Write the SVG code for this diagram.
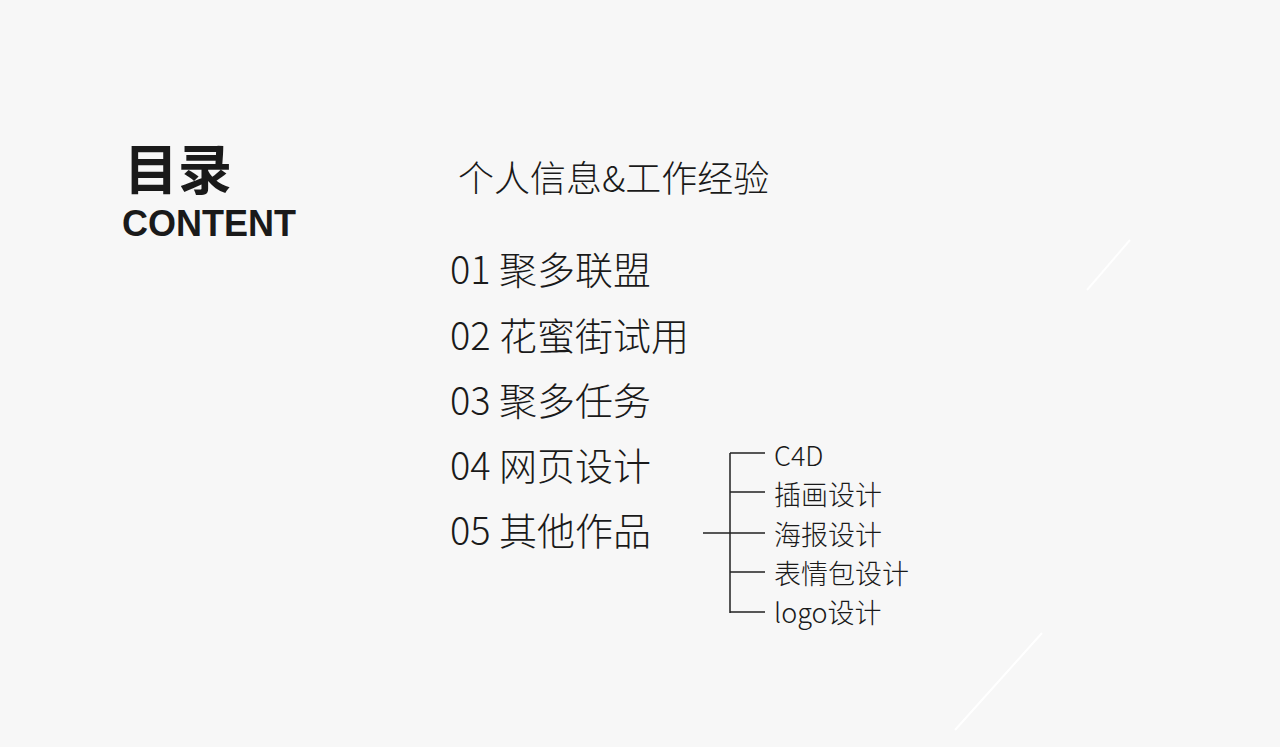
<svg xmlns="http://www.w3.org/2000/svg" width="1280" height="747" viewBox="0 0 1280 747">
<style>
text{font-family:"Noto Sans CJK SC","Noto Sans",sans-serif;fill:#1a1a1a}
.item{font-size:38px;font-weight:300}
.sub{font-size:27px;font-weight:300}
.ln{stroke:#222;stroke-width:1.5;fill:none}
</style>
<rect width="1280" height="747" fill="#f7f7f7"/>
<g id="decor" stroke="#ffffff" stroke-width="2">
<line x1="1087" y1="290" x2="1130" y2="240"/>
<line x1="955" y1="730" x2="1042" y2="633"/>
</g>
<g id="title">
<text x="124" y="190" font-size="54" font-weight="700">目录</text>
<text x="122" y="236" font-size="36" font-weight="700" style="font-family:'Liberation Sans',sans-serif">CONTENT</text>
</g>
<g id="header"><text x="458" y="192" font-size="36" font-weight="300">个人信息&amp;工作经验</text></g>
<g id="i1"><text class="item" x="450" y="284">01 聚多联盟</text></g>
<g id="i2"><text class="item" x="450" y="350">02 花蜜街试用</text></g>
<g id="i3"><text class="item" x="450" y="415">03 聚多任务</text></g>
<g id="i4"><text class="item" x="450" y="480">04 网页设计</text></g>
<g id="i5"><text class="item" x="450" y="545">05 其他作品</text></g>
<g id="connectors">
<path class="ln" d="M703 533H765M730 453V613M730 453H765M730 492H765M730 572H765M730 612H765"/>
</g>
<g id="s1"><text class="sub" x="774" y="466">C4D</text></g>
<g id="s2"><text class="sub" x="774" y="505">插画设计</text></g>
<g id="s3"><text class="sub" x="774" y="545">海报设计</text></g>
<g id="s4"><text class="sub" x="774" y="584">表情包设计</text></g>
<g id="s5"><text class="sub" x="774" y="623">logo设计</text></g>
</svg>
